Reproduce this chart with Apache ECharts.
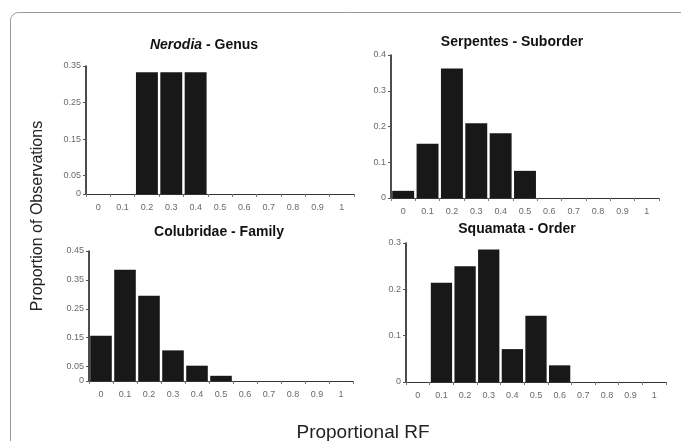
<!DOCTYPE html>
<html>
<head>
<meta charset="utf-8">
<script src="https://cdn.jsdelivr.net/npm/echarts@6/dist/echarts.min.js"></script>
<style>
html,body{margin:0;padding:0;background:#fff;}
#chart{width:681px;height:441px;}
</style>
</head>
<body>
<div id="chart"></div>
<script>
// Categories (proportional RF bins)
const categories = ['0','0.1','0.2','0.3','0.4','0.5','0.6','0.7','0.8','0.9','1'];

// Series values (proportion of observations)
const nerodia    = [0, 0, 0.333, 0.333, 0.333, 0, 0, 0, 0, 0, 0];
const serpentes  = [0.02, 0.152, 0.362, 0.209, 0.181, 0.076, 0, 0, 0, 0, 0];
const colubridae = [0.157, 0.385, 0.295, 0.106, 0.053, 0.018, 0, 0, 0, 0, 0];
const squamata   = [0, 0.214, 0.25, 0.286, 0.071, 0.143, 0.036, 0, 0, 0, 0];

// Y tick labels per panel
const yTicksNerodia    = [0, 0.05, 0.15, 0.25, 0.35];
const yTicksSerpentes  = [0, 0.1, 0.2, 0.3, 0.4];
const yTicksColubridae = [0, 0.05, 0.15, 0.25, 0.35, 0.45];
const yTicksSquamata   = [0, 0.1, 0.2, 0.3];

// Panel titles
const panelTitles = ['{i|Nerodia} - Genus', 'Serpentes - Suborder', 'Colubridae - Family', 'Squamata - Order'];
const xAxisTitle = 'Proportional RF';
const yAxisTitle = 'Proportion of Observations';

const FONT = '"Liberation Sans", Arial, Helvetica, sans-serif';

const panels = [
  {data: nerodia,    ticks: yTicksNerodia,    max: 0.35, grid: {left: 86,  top: 66,  width: 268, height: 128}, title: [204, 45]},
  {data: serpentes,  ticks: yTicksSerpentes,  max: 0.4,  grid: {left: 391, top: 55,  width: 268, height: 143}, title: [512, 42]},
  {data: colubridae, ticks: yTicksColubridae, max: 0.45, grid: {left: 89,  top: 251, width: 264, height: 130}, title: [219, 232]},
  {data: squamata,   ticks: yTicksSquamata,   max: 0.3,  grid: {left: 406, top: 243, width: 260, height: 139}, title: [517, 229]}
];

const grids = [], xAxes = [], yAxes = [], series = [];
panels.forEach((p, i) => {
  grids.push(Object.assign({outerBoundsMode: 'none', containLabel: false}, p.grid));
  xAxes.push({
    type: 'category', gridIndex: i, data: categories,
    boundaryGap: true,
    axisLine: {lineStyle: {color: '#333', width: 1}},
    axisTick: {show: true, length: 3, lineStyle: {color: '#777'}},
    axisLabel: {color: '#6a6a6a', fontSize: 9, fontFamily: FONT, margin: 9, interval: 0}
  });
  yAxes.push({
    type: 'value', gridIndex: i, min: 0, max: p.max,
    splitLine: {show: false},
    axisLine: {show: true, lineStyle: {color: '#111', width: 1.5}},
    axisTick: {show: true, length: 3, customValues: p.ticks, lineStyle: {color: '#555'}},
    axisLabel: {color: '#6a6a6a', fontSize: 9, fontFamily: FONT, margin: 5, customValues: p.ticks,
      formatter: v => String(+v.toFixed(2))}
  });
  series.push({
    type: 'bar', xAxisIndex: i, yAxisIndex: i, data: p.data,
    barCategoryGap: '10%',
    itemStyle: {color: '#181818', borderWidth: 0},
    emphasis: {disabled: true},
    silent: true
  });
});

const graphics = [
  {type: 'rect', z: -10, shape: {x: 10.5, y: 12.5, width: 700, height: 460, r: 8},
   style: {fill: 'none', stroke: '#9a9a9a', lineWidth: 1}},
  {type: 'text', x: 38, y: 216, rotation: Math.PI / 2,
   style: {text: yAxisTitle, font: '16px ' + FONT, fill: '#222', align: 'center', verticalAlign: 'middle'}},
  {type: 'text', x: 363, y: 433,
   style: {text: xAxisTitle, font: '19px ' + FONT, fill: '#222', align: 'center', verticalAlign: 'middle'}}
];
panels.forEach((p, i) => {
  graphics.push({
    type: 'text', x: p.title[0], y: p.title[1],
    style: {
      text: panelTitles[i], font: 'bold 14px ' + FONT, fill: '#111',
      align: 'center', verticalAlign: 'middle',
      rich: {i: {fontStyle: 'italic', fontWeight: 'bold', fontSize: 14, fontFamily: FONT, fill: '#111'}}
    }
  });
});

const chart = echarts.init(document.getElementById('chart'), null, {renderer: 'canvas'});
chart.setOption({
  animation: false,
  backgroundColor: '#fff',
  grid: grids,
  xAxis: xAxes,
  yAxis: yAxes,
  series: series,
  graphic: graphics
});
</script>
</body>
</html>
